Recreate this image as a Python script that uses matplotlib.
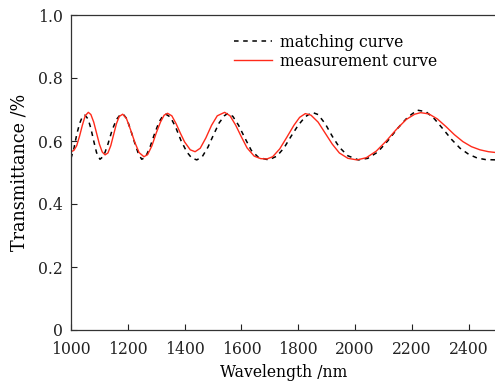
import matplotlib
matplotlib.use("Agg")
import matplotlib.pyplot as plt

# measurement curve (red)
meas_x = [1000, 1010, 1020, 1030, 1040, 1050, 1061, 1070, 1080, 1090, 1100, 1110, 1120, 1130, 1140,
          1150, 1160, 1170, 1182, 1195, 1210, 1225, 1240, 1257, 1270, 1285, 1300, 1315, 1328, 1340,
          1355, 1370, 1385, 1400, 1420, 1437, 1455, 1475, 1495, 1515, 1541, 1560, 1580, 1600, 1620,
          1645, 1668, 1690, 1710, 1735, 1760, 1785, 1805, 1825, 1845, 1870, 1895, 1920, 1945, 1975,
          2007, 2040, 2075, 2110, 2145, 2180, 2210, 2231, 2260, 2290, 2320, 2350, 2380, 2410, 2440,
          2470, 2500]
meas_y = [0.566, 0.570, 0.585, 0.615, 0.650, 0.680, 0.691, 0.684, 0.660, 0.625, 0.590, 0.565, 0.556, 0.562, 0.585,
          0.620, 0.655, 0.678, 0.685, 0.672, 0.635, 0.595, 0.563, 0.550, 0.557, 0.585, 0.625, 0.660, 0.682, 0.688,
          0.680, 0.655, 0.625, 0.597, 0.572, 0.566, 0.577, 0.610, 0.650, 0.680, 0.691, 0.680, 0.650, 0.613, 0.578,
          0.552, 0.544, 0.543, 0.550, 0.575, 0.612, 0.650, 0.675, 0.687, 0.682, 0.660, 0.625, 0.590, 0.562, 0.545,
          0.540, 0.547, 0.568, 0.600, 0.636, 0.668, 0.685, 0.690, 0.686, 0.670, 0.646, 0.620, 0.598, 0.582, 0.572,
          0.566, 0.563]

# matching curve (black dashed)
match_x = [1000, 1010, 1020, 1030, 1040, 1049, 1060, 1070, 1080, 1090, 1102, 1115, 1130, 1145, 1160,
           1172, 1184, 1197, 1210, 1225, 1238, 1249, 1262, 1278, 1295, 1310, 1322, 1334, 1350, 1368,
           1388, 1408, 1425, 1443, 1462, 1482, 1502, 1522, 1540, 1552, 1570, 1590, 1612, 1635, 1660,
           1696, 1725, 1750, 1775, 1800, 1825, 1849, 1870, 1895, 1920, 1945, 1975, 2012, 2045, 2080,
           2115, 2150, 2185, 2219, 2250, 2280, 2310, 2340, 2370, 2400, 2430, 2460, 2500]
match_y = [0.545, 0.575, 0.620, 0.655, 0.677, 0.682, 0.670, 0.640, 0.600, 0.563, 0.542, 0.552, 0.590, 0.635, 0.668,
           0.682, 0.685, 0.670, 0.635, 0.592, 0.558, 0.542, 0.548, 0.580, 0.625, 0.660, 0.678, 0.685, 0.676, 0.645,
           0.600, 0.565, 0.546, 0.540, 0.550, 0.580, 0.620, 0.658, 0.680, 0.688, 0.678, 0.650, 0.610, 0.570, 0.548,
           0.540, 0.552, 0.578, 0.615, 0.650, 0.677, 0.691, 0.684, 0.655, 0.615, 0.580, 0.553, 0.540, 0.545, 0.565,
           0.600, 0.640, 0.675, 0.698, 0.693, 0.670, 0.638, 0.605, 0.577, 0.558, 0.546, 0.541, 0.540]

x_ticks = [1000, 1200, 1400, 1600, 1800, 2000, 2200, 2400]
y_ticks = [0, 0.2, 0.4, 0.6, 0.8, 1.0]
y_tick_labels = ["0", "0.2", "0.4", "0.6", "0.8", "1.0"]

plt.rcParams['font.family'] = ['DejaVu Serif']
plt.rcParams['font.stretch'] = 'condensed'

fig = plt.figure(figsize=(4.95, 3.9), dpi=100)
ax = fig.add_axes([71 / 495, 60 / 390, (497 - 71) / 495, 315 / 390])

ax.plot(match_x, match_y, color='black', linestyle=(0, (3, 3)), linewidth=1.1, label='matching curve')
ax.plot(meas_x, meas_y, color='#ff2a1a', linewidth=1.0, label='measurement curve')

ax.set_xlim(1000, 2500)
ax.set_ylim(0, 1.0)
ax.set_xticks(x_ticks)
ax.set_yticks(y_ticks)
ax.set_yticklabels(y_tick_labels)
ax.tick_params(direction='in', length=4, width=0.8, labelsize=12.5, colors='#222222')
ax.tick_params(axis='x', pad=8)
ax.tick_params(axis='y', pad=6)
for s in ax.spines.values():
    s.set_linewidth(0.9)
    s.set_color('#333333')

ax.set_xlabel('Wavelength /nm', fontsize=12.5, labelpad=4)
ax.set_ylabel('Transmittance /%', fontsize=14, labelpad=7)

ax.legend(loc='upper left', bbox_to_anchor=(0.345, 0.99), frameon=False, fontsize=12.5,
          handlelength=2.2, handletextpad=0.45, labelspacing=0.12)

fig.savefig('out.png', dpi=100)
